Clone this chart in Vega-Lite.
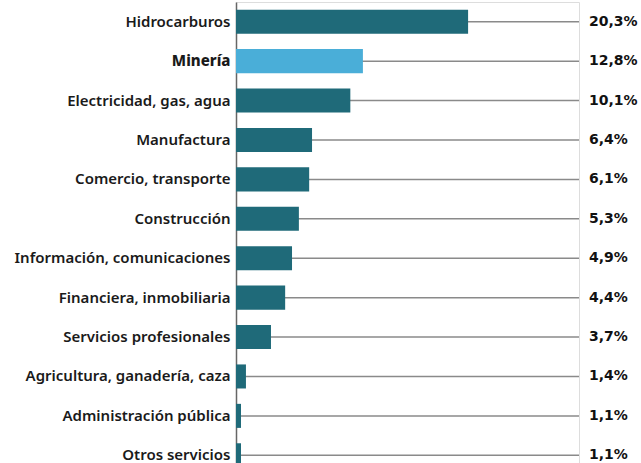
{
  "$schema": "https://vega.github.io/schema/vega-lite/v6.json",
  "width": 343,
  "height": 473,
  "autosize": {"type": "none"},
  "padding": {"left": 236, "top": 2, "right": 62, "bottom": 0},
  "background": "white",
  "data": {"values": [
    {"sector": "Hidrocarburos", "bar": 20.3, "label": "20,3%", "highlight": "no"},
    {"sector": "Minería", "bar": 11.1, "label": "12,8%", "highlight": "yes"},
    {"sector": "Electricidad, gas, agua", "bar": 10.0, "label": "10,1%", "highlight": "no"},
    {"sector": "Manufactura", "bar": 6.65, "label": "6,4%", "highlight": "no"},
    {"sector": "Comercio, transporte", "bar": 6.4, "label": "6,1%", "highlight": "no"},
    {"sector": "Construcción", "bar": 5.5, "label": "5,3%", "highlight": "no"},
    {"sector": "Información, comunicaciones", "bar": 4.9, "label": "4,9%", "highlight": "no"},
    {"sector": "Financiera, inmobiliaria", "bar": 4.3, "label": "4,4%", "highlight": "no"},
    {"sector": "Servicios profesionales", "bar": 3.06, "label": "3,7%", "highlight": "no"},
    {"sector": "Agricultura, ganadería, caza", "bar": 0.87, "label": "1,4%", "highlight": "no"},
    {"sector": "Administración pública", "bar": 0.44, "label": "1,1%", "highlight": "no"},
    {"sector": "Otros servicios", "bar": 0.44, "label": "1,1%", "highlight": "no"}
  ]},
  "encoding": {
    "y": {
      "field": "sector",
      "type": "nominal",
      "sort": null,
      "scale": {"paddingInner": 0.39, "paddingOuter": 0.195},
      "axis": {
        "title": null,
        "ticks": false,
        "domainColor": "#666666",
        "domainWidth": 1.5,
        "labelFont": "Noto Sans",
        "labelFontSize": 15,
        "labelLimit": 400,
        "labelColor": "#1a1a1a",
        "labelPadding": 6,
        "labelFontWeight": {"condition": {"test": "datum.value == 'Minería'", "value": 800}, "value": 600}
      }
    }
  },
  "layer": [
    {
      "mark": {"type": "rule", "color": "#8a8a8a", "strokeWidth": 1.5},
      "encoding": {
        "x": {"datum": 0, "type": "quantitative", "scale": {"domain": [0, 30]}, "axis": null},
        "x2": {"datum": 30}
      }
    },
    {
      "mark": {"type": "bar"},
      "encoding": {
        "x": {"field": "bar", "type": "quantitative", "scale": {"domain": [0, 30]}, "axis": null},
        "color": {
          "field": "highlight",
          "type": "nominal",
          "scale": {"domain": ["no", "yes"], "range": ["#1f6a79", "#4aaed8"]},
          "legend": null
        }
      }
    },
    {
      "mark": {"type": "text", "align": "left", "dx": 10, "font": "DejaVu Sans", "fontWeight": "bold", "fontSize": 14, "color": "#111111"},
      "encoding": {
        "x": {"datum": 30, "type": "quantitative"},
        "text": {"field": "label"}
      }
    }
  ]
}
